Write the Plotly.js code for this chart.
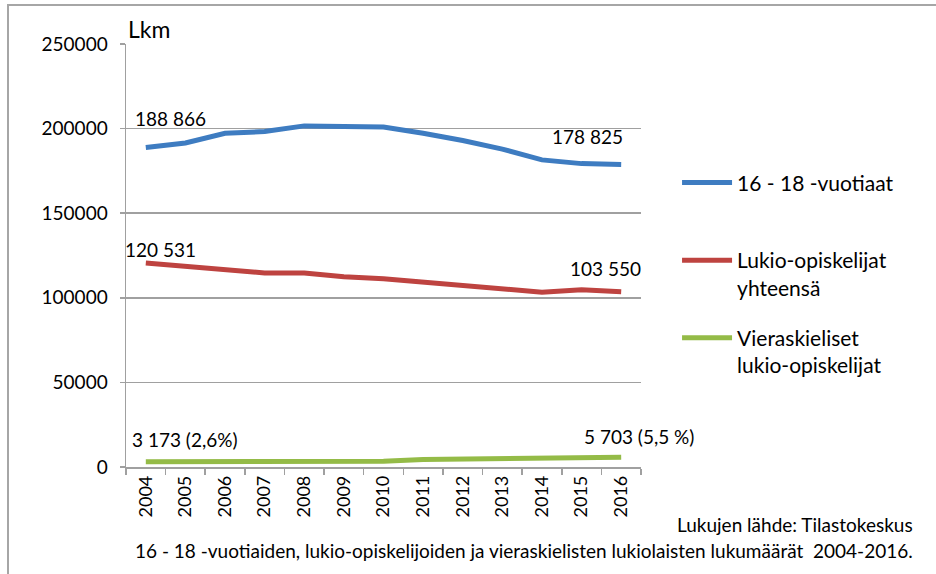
<!DOCTYPE html>
<html>
<head>
<meta charset="utf-8">
<script src="https://cdn.plot.ly/plotly-3.0.1.min.js"></script>
<style>
html,body{margin:0;padding:0;background:#fff;}
#wrap{position:relative;width:936px;height:574px;}
#chart{width:936px;height:574px;}
#frame{position:absolute;left:7px;top:4px;width:940px;height:580px;border-top:2px solid #a6a6a6;border-left:2px solid #a6a6a6;pointer-events:none;}
</style>
</head>
<body>
<div id="wrap"><div id="chart"></div><div id="frame"></div></div>
<script>
const years = ['2004','2005','2006','2007','2008','2009','2010','2011','2012','2013','2014','2015','2016'];
const youth = [188866,191500,197200,198300,201600,201000,201000,197300,193000,187900,181500,179300,178825];
const students = [120531,118400,117000,114700,114600,112500,111200,109200,107800,105700,103300,104700,103550];
const foreign = [3173,3200,3250,3300,3350,3400,3450,4400,4600,4700,4800,5500,5703];
const names = ['16 - 18 -vuotiaat<br>&nbsp;','Lukio-opiskelijat<br>yhteensä','Vieraskieliset<br>lukio-opiskelijat'];
const colors = ['#3E7CC1','#BE4340','#94BB47'];
const firstLabels = ['188 866','120 531','3 173 (2,6%)'];
const lastLabels = ['178 825','103 550','5 703 (5,5 %)'];
const tickVals = [0,50000,100000,150000,200000,250000];
const tickText = ['0','50000','100000','150000','200000','250000'];

const F = 'Lato, "Open Sans", sans-serif';
const series = [youth, students, foreign];
const traces = series.map((s,i)=>({
  x: years, y: s, type:'scatter', mode:'lines', name: names[i],
  line:{color:colors[i], width:5}, legendgroup:'g'+i, hoverinfo:'none'
}));

const firstShift = [[25,29],[15,14],[39,22]];
const lastShift = [[-34,28],[-16,23],[18,21]];
const ann = [];
const last = years.length-1;
series.forEach((s,i)=>{
  ann.push({x:0, y:s[0], xref:'x', yref:'y', text:firstLabels[i], showarrow:false,
    xshift:firstShift[i][0], yshift:firstShift[i][1], font:{family:F,size:19,color:'#000'}});
  ann.push({x:last, y:s[last], xref:'x', yref:'y', text:lastLabels[i], showarrow:false,
    xshift:lastShift[i][0], yshift:lastShift[i][1], font:{family:F,size:19,color:'#000'}});
});
ann.push({xref:'paper', yref:'paper', x:0.045, y:1.035, xanchor:'center', yanchor:'middle', text:'Lkm', showarrow:false, font:{family:F,size:23,color:'#000'}});
ann.push({xref:'paper', yref:'paper', x:1.533, y:-0.135, xanchor:'right', yanchor:'middle', text:'Lukujen lähde: Tilastokeskus', showarrow:false, font:{family:F,size:19,color:'#000'}});
ann.push({xref:'paper', yref:'paper', x:1.533, y:-0.197, xanchor:'right', yanchor:'middle', text:'16 - 18 -vuotiaiden, lukio-opiskelijoiden ja vieraskielisten lukiolaisten lukumäärät  2004-2016.', showarrow:false, font:{family:F,size:19,color:'#000'}});

const layout = {
  width:936, height:574,
  margin:{l:126, r:295, t:44, b:107, pad:0},
  paper_bgcolor:'#fff', plot_bgcolor:'#fff',
  showlegend:true,
  legend:{x:1.07, y:0.72, xanchor:'left', yanchor:'top', font:{family:F,size:21,color:'#000'},
    traceorder:'grouped', tracegroupgap:20, valign:'top', itemwidth:50, bgcolor:'rgba(0,0,0,0)'},
  xaxis:{type:'category', range:[-0.5,12.5], showline:true, linecolor:'#a0a0a0', linewidth:1.5,
    ticks:'outside', tickson:'boundaries', ticklen:6, tickcolor:'#a0a0a0', tickwidth:1.5,
    tickangle:-90, showgrid:false, tickfont:{family:F,size:18,color:'#000'}, fixedrange:true},
  yaxis:{range:[0,250000], tickvals:tickVals, ticktext:tickText, showline:true, linecolor:'#a0a0a0', linewidth:1.5,
    ticks:'outside', ticklen:5, tickcolor:'#a0a0a0', tickwidth:1.5, showgrid:true, gridcolor:'#a0a0a0', gridwidth:1.5,
    zeroline:false, tickfont:{family:F,size:19,color:'#000'}, ticklabelstandoff:8, fixedrange:true},
  annotations: ann
};
Plotly.newPlot('chart', traces, layout, {staticPlot:true, displayModeBar:false});
</script>
</body>
</html>
